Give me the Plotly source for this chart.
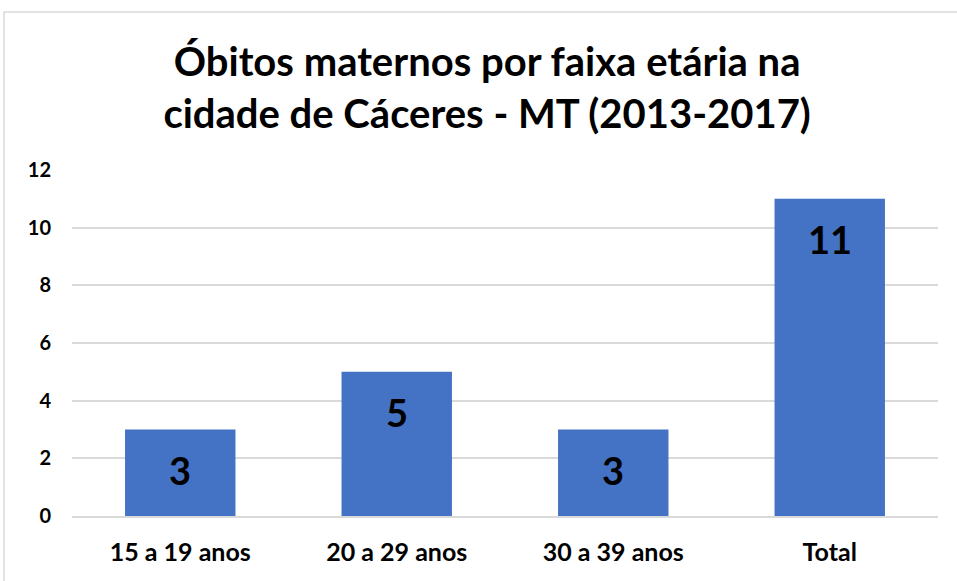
import plotly.graph_objects as go

categories = ["15 a 19 anos", "20 a 29 anos", "30 a 39 anos", "Total"]
values = [3, 5, 3, 11]
y_ticks = [0, 2, 4, 6, 8, 10, 12]
title_text = "Óbitos maternos por faixa etária na<br>cidade de Cáceres - MT (2013-2017)"

FONT = "Lato"
W, H = 957, 581
L, R, T, B = 72, 19, 170, 65
pw, ph = W - L - R, H - T - B

fig = go.Figure(go.Bar(
    x=categories, y=values,
    marker=dict(color="#4472C4", line=dict(width=0)),
    hoverinfo="x+y",
))

for c, v in zip(categories, values):
    fig.add_annotation(x=c, y=v, text=str(v), showarrow=False, yshift=-40,
                       yanchor="middle", xanchor="center",
                       font=dict(family=FONT, size=38, color="black", weight="bold"))

fig.update_layout(
    width=W, height=H,
    margin=dict(l=L, r=R, t=T, b=B, autoexpand=False),
    paper_bgcolor="white", plot_bgcolor="white",
    bargap=0.49,
    showlegend=False,
    title=dict(text=title_text, x=0.509, xanchor="center", y=(H - 76) / H, yanchor="middle",
               font=dict(family=FONT, size=40, color="black", weight="bold")),
    xaxis=dict(showgrid=False, showline=True, linecolor="#d9d9d9", linewidth=1.5,
               tickfont=dict(family=FONT, size=25, color="black", weight="bold"),
               ticks="", ticklabelstandoff=13),
    yaxis=dict(range=[0, 12], tickvals=y_ticks, showgrid=True, gridcolor="#d9d9d9", gridwidth=1.5,
               zeroline=False, showline=False,
               tickfont=dict(family=FONT, size=20, color="black", weight="bold"),
               ticks="", ticklabelstandoff=20),
    shapes=[dict(type="rect", xref="paper", yref="paper",
                 x0=(4 - L) / pw, x1=(W + 10 - L) / pw,
                 y0=-(B + 10) / ph, y1=1 + (T - 12) / ph,
                 line=dict(color="#d9d9d9", width=1.5), fillcolor="rgba(0,0,0,0)", layer="below")],
)

fig.write_html("out.html", config={"displayModeBar": False})

with open("out.html", "r", encoding="utf-8") as f:
    html = f.read()
html = html.replace("<body>", '<body style="margin:0;padding:0">', 1)
with open("out.html", "w", encoding="utf-8") as f:
    f.write(html)
